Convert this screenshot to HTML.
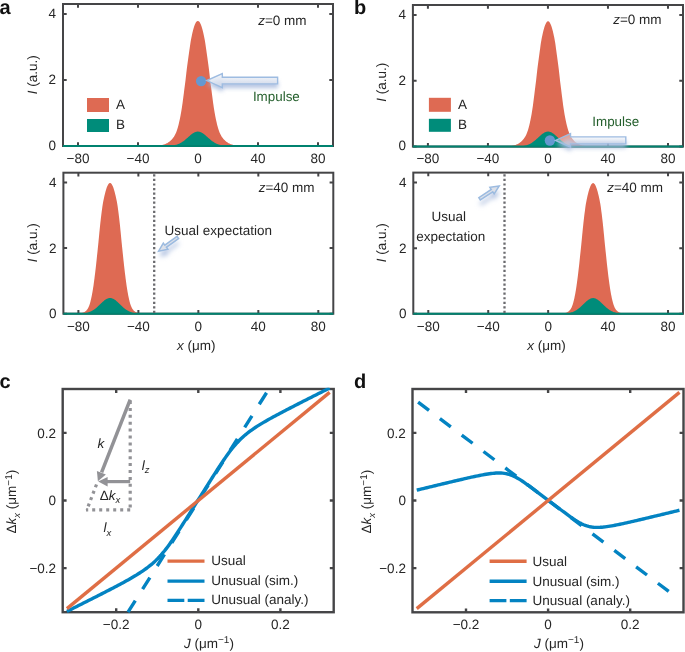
<!DOCTYPE html>
<html><head><meta charset="utf-8"><style>
html,body{margin:0;padding:0;background:#fff;}
svg{display:block;font-family:"Liberation Sans", sans-serif;will-change:transform;text-rendering:geometricPrecision;}
</style></head><body>
<svg width="685" height="652" viewBox="0 0 685 652">
<path d="M78 4v3.7M78 146v-3.7M138 4v3.7M138 146v-3.7M198 4v3.7M198 146v-3.7M258 4v3.7M258 146v-3.7M318 4v3.7M318 146v-3.7M63 146h3.7M333 146h-3.7M63 80h3.7M333 80h-3.7M63 14h3.7M333 14h-3.7" stroke="#454547" stroke-width="2" fill="none"/>
<rect x="63" y="4" width="270" height="142" stroke="#454547" stroke-width="2" fill="none"/>
<path d="M63 146 L146.96 145.98 L147.35 145.98 L147.74 145.98 L148.13 145.98 L148.53 145.97 L148.93 145.97 L149.32 145.97 L149.72 145.96 L150.13 145.96 L150.53 145.95 L150.93 145.95 L151.33 145.94 L151.74 145.93 L152.15 145.92 L152.55 145.91 L152.96 145.9 L153.37 145.89 L153.78 145.88 L154.19 145.86 L154.6 145.85 L155.01 145.83 L155.42 145.81 L155.83 145.79 L156.24 145.76 L156.65 145.74 L157.06 145.71 L157.47 145.67 L157.88 145.64 L158.29 145.6 L158.7 145.55 L159.11 145.51 L159.52 145.45 L159.93 145.4 L160.33 145.33 L160.74 145.26 L161.15 145.19 L161.56 145.11 L161.96 145.02 L162.37 144.92 L162.79 144.81 L163.21 144.7 L163.64 144.57 L164.07 144.44 L164.51 144.29 L164.95 144.13 L165.39 143.96 L165.83 143.77 L166.27 143.57 L166.72 143.36 L167.16 143.13 L167.6 142.88 L168.03 142.61 L168.47 142.32 L168.91 142.01 L169.36 141.68 L169.8 141.32 L170.25 140.95 L170.69 140.54 L171.13 140.11 L171.57 139.65 L172.01 139.17 L172.46 138.65 L172.91 138.1 L173.36 137.51 L173.8 136.89 L174.23 136.24 L174.64 135.55 L175.02 134.82 L175.4 134.05 L175.78 133.24 L176.15 132.38 L176.51 131.48 L176.86 130.54 L177.19 129.55 L177.51 128.52 L177.82 127.44 L178.13 126.31 L178.44 125.13 L178.74 123.89 L179.05 122.61 L179.35 121.28 L179.65 119.9 L179.96 118.46 L180.26 116.97 L180.55 115.43 L180.85 113.84 L181.13 112.19 L181.42 110.5 L181.7 108.75 L181.99 106.96 L182.26 105.12 L182.53 103.23 L182.79 101.29 L183.05 99.31 L183.31 97.29 L183.58 95.23 L183.85 93.13 L184.12 91 L184.39 88.83 L184.67 86.63 L184.96 84.4 L185.26 82.15 L185.55 79.88 L185.82 77.6 L186.08 75.3 L186.33 72.99 L186.6 70.67 L186.89 68.36 L187.19 66.04 L187.49 63.74 L187.8 61.45 L188.11 59.17 L188.42 56.92 L188.74 54.69 L189.06 52.5 L189.37 50.34 L189.68 48.22 L189.96 46.15 L190.25 44.13 L190.55 42.17 L190.88 40.26 L191.23 38.42 L191.59 36.66 L191.95 34.96 L192.32 33.35 L192.68 31.82 L193.04 30.37 L193.4 29.02 L193.76 27.76 L194.13 26.59 L194.5 25.53 L194.86 24.57 L195.23 23.72 L195.6 22.98 L195.97 22.35 L196.34 21.83 L196.72 21.42 L197.09 21.13 L197.47 20.96 L197.85 20.9 L198.23 20.96 L198.61 21.13 L198.98 21.42 L199.36 21.83 L199.73 22.35 L200.1 22.98 L200.47 23.72 L200.84 24.57 L201.2 25.53 L201.57 26.59 L201.94 27.76 L202.3 29.02 L202.66 30.37 L203.02 31.82 L203.38 33.35 L203.75 34.96 L204.11 36.66 L204.47 38.42 L204.82 40.26 L205.15 42.17 L205.45 44.13 L205.74 46.15 L206.02 48.22 L206.33 50.34 L206.64 52.5 L206.96 54.69 L207.28 56.92 L207.59 59.17 L207.9 61.45 L208.21 63.74 L208.51 66.04 L208.81 68.36 L209.1 70.67 L209.37 72.99 L209.62 75.3 L209.88 77.6 L210.15 79.88 L210.44 82.15 L210.74 84.4 L211.03 86.63 L211.31 88.83 L211.58 91 L211.85 93.13 L212.12 95.23 L212.39 97.29 L212.65 99.31 L212.91 101.29 L213.17 103.23 L213.44 105.12 L213.71 106.96 L214 108.75 L214.28 110.5 L214.57 112.19 L214.85 113.84 L215.15 115.43 L215.44 116.97 L215.74 118.46 L216.05 119.9 L216.35 121.28 L216.65 122.61 L216.96 123.89 L217.26 125.13 L217.57 126.31 L217.88 127.44 L218.19 128.52 L218.51 129.55 L218.84 130.54 L219.19 131.48 L219.55 132.38 L219.92 133.24 L220.3 134.05 L220.68 134.82 L221.06 135.55 L221.47 136.24 L221.9 136.89 L222.34 137.51 L222.79 138.1 L223.24 138.65 L223.69 139.17 L224.13 139.65 L224.57 140.11 L225.01 140.54 L225.45 140.95 L225.9 141.32 L226.34 141.68 L226.79 142.01 L227.23 142.32 L227.67 142.61 L228.1 142.88 L228.54 143.13 L228.98 143.36 L229.43 143.57 L229.87 143.77 L230.31 143.96 L230.75 144.13 L231.19 144.29 L231.63 144.44 L232.06 144.57 L232.49 144.7 L232.91 144.81 L233.33 144.92 L233.74 145.02 L234.14 145.11 L234.55 145.19 L234.96 145.26 L235.37 145.33 L235.77 145.4 L236.18 145.45 L236.59 145.51 L237 145.55 L237.41 145.6 L237.82 145.64 L238.23 145.67 L238.64 145.71 L239.05 145.74 L239.46 145.76 L239.87 145.79 L240.28 145.81 L240.69 145.83 L241.1 145.85 L241.51 145.86 L241.92 145.88 L242.33 145.89 L242.74 145.9 L243.15 145.91 L243.55 145.92 L243.96 145.93 L244.37 145.94 L244.77 145.95 L245.17 145.95 L245.57 145.96 L245.98 145.96 L246.38 145.97 L246.77 145.97 L247.17 145.97 L247.57 145.98 L247.96 145.98 L248.35 145.98 L248.74 145.98 L333 146 Z" fill="#DE6A53"/>
<path d="M63 146 L158.65 146 L159.31 145.99 L159.97 145.99 L160.63 145.99 L161.29 145.99 L161.94 145.98 L162.6 145.98 L163.26 145.97 L163.92 145.96 L164.58 145.95 L165.24 145.94 L165.9 145.93 L166.56 145.91 L167.21 145.89 L167.87 145.87 L168.53 145.84 L169.19 145.8 L169.85 145.76 L170.51 145.71 L171.17 145.65 L171.83 145.58 L172.49 145.49 L173.14 145.4 L173.8 145.29 L174.46 145.17 L175.12 145.02 L175.78 144.86 L176.44 144.68 L177.1 144.47 L177.76 144.24 L178.41 143.98 L179.07 143.7 L179.73 143.39 L180.39 143.05 L181.05 142.69 L181.71 142.29 L182.37 141.87 L183.03 141.41 L183.69 140.93 L184.34 140.43 L185 139.9 L185.66 139.36 L186.32 138.79 L186.98 138.22 L187.64 137.63 L188.3 137.05 L188.96 136.46 L189.61 135.88 L190.27 135.32 L190.93 134.78 L191.59 134.26 L192.25 133.77 L192.91 133.32 L193.57 132.91 L194.23 132.55 L194.89 132.24 L195.54 131.99 L196.2 131.8 L196.86 131.67 L197.52 131.61 L198.18 131.61 L198.84 131.67 L199.5 131.8 L200.16 131.99 L200.81 132.24 L201.47 132.55 L202.13 132.91 L202.79 133.32 L203.45 133.77 L204.11 134.26 L204.77 134.78 L205.43 135.32 L206.09 135.88 L206.74 136.46 L207.4 137.05 L208.06 137.63 L208.72 138.22 L209.38 138.79 L210.04 139.36 L210.7 139.9 L211.36 140.43 L212.01 140.93 L212.67 141.41 L213.33 141.87 L213.99 142.29 L214.65 142.69 L215.31 143.05 L215.97 143.39 L216.63 143.7 L217.29 143.98 L217.94 144.24 L218.6 144.47 L219.26 144.68 L219.92 144.86 L220.58 145.02 L221.24 145.17 L221.9 145.29 L222.56 145.4 L223.21 145.49 L223.87 145.58 L224.53 145.65 L225.19 145.71 L225.85 145.76 L226.51 145.8 L227.17 145.84 L227.83 145.87 L228.49 145.89 L229.14 145.91 L229.8 145.93 L230.46 145.94 L231.12 145.95 L231.78 145.96 L232.44 145.97 L233.1 145.98 L233.76 145.98 L234.41 145.99 L235.07 145.99 L235.73 145.99 L236.39 145.99 L237.05 146 L333 146 Z" fill="#008C7A"/>
<line x1="63" y1="146" x2="333" y2="146" stroke="#00826F" stroke-width="2"/>
<text x="78" y="162.7" font-size="13.5" text-anchor="middle" fill="#262626" >&#8722;80</text>
<text x="138" y="162.7" font-size="13.5" text-anchor="middle" fill="#262626" >&#8722;40</text>
<text x="198" y="162.7" font-size="13.5" text-anchor="middle" fill="#262626" >0</text>
<text x="258" y="162.7" font-size="13.5" text-anchor="middle" fill="#262626" >40</text>
<text x="318" y="162.7" font-size="13.5" text-anchor="middle" fill="#262626" >80</text>
<text x="56.1" y="149.7" font-size="13.5" text-anchor="end" fill="#262626" >0</text>
<text x="56.1" y="83.7" font-size="13.5" text-anchor="end" fill="#262626" >2</text>
<text x="56.1" y="17.7" font-size="13.5" text-anchor="end" fill="#262626" >4</text>
<path d="M78.39 172.7v3.7M78.39 313.7v-3.7M138.37 172.7v3.7M138.37 313.7v-3.7M198.35 172.7v3.7M198.35 313.7v-3.7M258.33 172.7v3.7M258.33 313.7v-3.7M318.31 172.7v3.7M318.31 313.7v-3.7M63.4 313.7h3.7M333.3 313.7h-3.7M63.4 248.1h3.7M333.3 248.1h-3.7M63.4 182.5h3.7M333.3 182.5h-3.7" stroke="#454547" stroke-width="2" fill="none"/>
<rect x="63.4" y="172.7" width="269.9" height="141" stroke="#454547" stroke-width="2" fill="none"/>
<path d="M63.4 313.7 L73.36 313.68 L73.62 313.68 L73.88 313.68 L74.14 313.68 L74.41 313.67 L74.67 313.67 L74.93 313.67 L75.19 313.66 L75.46 313.66 L75.72 313.65 L75.98 313.64 L76.24 313.64 L76.5 313.63 L76.77 313.62 L77.03 313.61 L77.29 313.6 L77.55 313.59 L77.81 313.57 L78.07 313.56 L78.33 313.54 L78.6 313.52 L78.86 313.5 L79.12 313.48 L79.38 313.45 L79.64 313.42 L79.9 313.39 L80.16 313.36 L80.42 313.32 L80.68 313.28 L80.94 313.23 L81.2 313.18 L81.46 313.13 L81.72 313.07 L81.98 313 L82.24 312.93 L82.5 312.85 L82.76 312.77 L83.02 312.67 L83.28 312.57 L83.54 312.46 L83.8 312.34 L84.06 312.21 L84.32 312.07 L84.58 311.91 L84.84 311.75 L85.1 311.57 L85.36 311.37 L85.62 311.16 L85.88 310.94 L86.13 310.7 L86.39 310.44 L86.65 310.15 L86.91 309.85 L87.17 309.53 L87.43 309.19 L87.68 308.82 L87.92 308.42 L88.16 308 L88.38 307.55 L88.61 307.07 L88.83 306.56 L89.05 306.02 L89.27 305.44 L89.49 304.83 L89.71 304.19 L89.92 303.5 L90.13 302.78 L90.34 302.02 L90.54 301.21 L90.75 300.36 L90.96 299.47 L91.17 298.54 L91.39 297.55 L91.61 296.52 L91.82 295.44 L92.04 294.31 L92.26 293.12 L92.48 291.89 L92.7 290.61 L92.92 289.27 L93.14 287.87 L93.36 286.43 L93.58 284.93 L93.8 283.37 L94.01 281.76 L94.23 280.1 L94.46 278.38 L94.68 276.61 L94.91 274.79 L95.14 272.91 L95.37 270.99 L95.61 269.01 L95.84 266.99 L96.07 264.92 L96.3 262.81 L96.52 260.66 L96.75 258.46 L96.98 256.23 L97.22 253.97 L97.47 251.67 L97.72 249.35 L97.96 247 L98.21 244.62 L98.44 242.23 L98.67 239.83 L98.9 237.42 L99.14 235 L99.37 232.58 L99.61 230.17 L99.85 227.76 L100.1 225.36 L100.35 222.99 L100.62 220.63 L100.88 218.31 L101.16 216.01 L101.44 213.76 L101.72 211.55 L102.01 209.38 L102.3 207.27 L102.6 205.22 L102.92 203.23 L103.28 201.31 L103.66 199.46 L104.03 197.69 L104.41 196.01 L104.78 194.4 L105.16 192.89 L105.53 191.48 L105.91 190.16 L106.29 188.95 L106.66 187.84 L107.04 186.84 L107.41 185.95 L107.79 185.17 L108.16 184.51 L108.54 183.97 L108.91 183.55 L109.29 183.24 L109.66 183.06 L110.03 183 L110.4 183.06 L110.78 183.24 L111.15 183.55 L111.53 183.97 L111.9 184.51 L112.28 185.17 L112.65 185.95 L113.03 186.84 L113.4 187.84 L113.78 188.95 L114.16 190.16 L114.53 191.48 L114.91 192.89 L115.28 194.4 L115.66 196.01 L116.03 197.69 L116.41 199.46 L116.79 201.31 L117.14 203.23 L117.47 205.22 L117.77 207.27 L118.06 209.38 L118.34 211.55 L118.63 213.76 L118.91 216.01 L119.18 218.31 L119.45 220.63 L119.71 222.99 L119.96 225.36 L120.21 227.76 L120.45 230.17 L120.69 232.58 L120.93 235 L121.16 237.42 L121.39 239.83 L121.62 242.23 L121.86 244.62 L122.1 247 L122.35 249.35 L122.6 251.67 L122.84 253.97 L123.08 256.23 L123.31 258.46 L123.54 260.66 L123.77 262.81 L123.99 264.92 L124.23 266.99 L124.46 269.01 L124.69 270.99 L124.92 272.91 L125.16 274.79 L125.38 276.61 L125.61 278.38 L125.83 280.1 L126.05 281.76 L126.27 283.37 L126.49 284.93 L126.71 286.43 L126.93 287.87 L127.15 289.27 L127.37 290.61 L127.59 291.89 L127.81 293.12 L128.02 294.31 L128.24 295.44 L128.46 296.52 L128.68 297.55 L128.89 298.54 L129.1 299.47 L129.31 300.36 L129.52 301.21 L129.73 302.02 L129.94 302.78 L130.14 303.5 L130.36 304.19 L130.58 304.83 L130.8 305.44 L131.02 306.02 L131.24 306.56 L131.46 307.07 L131.68 307.55 L131.91 308 L132.14 308.42 L132.38 308.82 L132.64 309.19 L132.89 309.53 L133.15 309.85 L133.41 310.15 L133.67 310.44 L133.93 310.7 L134.19 310.94 L134.45 311.16 L134.71 311.37 L134.97 311.57 L135.23 311.75 L135.49 311.91 L135.75 312.07 L136.01 312.21 L136.27 312.34 L136.53 312.46 L136.78 312.57 L137.04 312.67 L137.3 312.77 L137.56 312.85 L137.82 312.93 L138.08 313 L138.34 313.07 L138.6 313.13 L138.86 313.18 L139.12 313.23 L139.38 313.28 L139.65 313.32 L139.91 313.36 L140.17 313.39 L140.43 313.42 L140.69 313.45 L140.95 313.48 L141.21 313.5 L141.47 313.52 L141.73 313.54 L141.99 313.56 L142.25 313.57 L142.51 313.59 L142.78 313.6 L143.04 313.61 L143.3 313.62 L143.56 313.63 L143.82 313.64 L144.08 313.64 L144.35 313.65 L144.61 313.66 L144.87 313.66 L145.13 313.67 L145.4 313.67 L145.66 313.67 L145.92 313.68 L146.18 313.68 L146.45 313.68 L146.71 313.68 L333.3 313.7 Z" fill="#DE6A53"/>
<path d="M63.4 313.7 L70.83 313.69 L71.49 313.69 L72.15 313.69 L72.81 313.69 L73.47 313.69 L74.13 313.68 L74.79 313.68 L75.44 313.67 L76.1 313.66 L76.76 313.65 L77.42 313.64 L78.08 313.62 L78.74 313.6 L79.4 313.58 L80.06 313.55 L80.72 313.52 L81.37 313.48 L82.03 313.43 L82.69 313.38 L83.35 313.31 L84.01 313.24 L84.67 313.15 L85.33 313.05 L85.99 312.93 L86.64 312.79 L87.3 312.63 L87.96 312.46 L88.62 312.26 L89.28 312.03 L89.94 311.78 L90.6 311.5 L91.26 311.2 L91.92 310.86 L92.57 310.49 L93.23 310.09 L93.89 309.66 L94.55 309.19 L95.21 308.7 L95.87 308.18 L96.53 307.63 L97.19 307.05 L97.84 306.46 L98.5 305.84 L99.16 305.21 L99.82 304.58 L100.48 303.94 L101.14 303.3 L101.8 302.67 L102.46 302.06 L103.12 301.46 L103.77 300.9 L104.43 300.36 L105.09 299.87 L105.75 299.43 L106.41 299.04 L107.07 298.7 L107.73 298.43 L108.39 298.22 L109.04 298.08 L109.7 298.01 L110.36 298.01 L111.02 298.08 L111.68 298.22 L112.34 298.43 L113 298.7 L113.66 299.04 L114.32 299.43 L114.97 299.87 L115.63 300.36 L116.29 300.9 L116.95 301.46 L117.61 302.06 L118.27 302.67 L118.93 303.3 L119.59 303.94 L120.24 304.58 L120.9 305.21 L121.56 305.84 L122.22 306.46 L122.88 307.05 L123.54 307.63 L124.2 308.18 L124.86 308.7 L125.52 309.19 L126.17 309.66 L126.83 310.09 L127.49 310.49 L128.15 310.86 L128.81 311.2 L129.47 311.5 L130.13 311.78 L130.79 312.03 L131.44 312.26 L132.1 312.46 L132.76 312.63 L133.42 312.79 L134.08 312.93 L134.74 313.05 L135.4 313.15 L136.06 313.24 L136.72 313.31 L137.37 313.38 L138.03 313.43 L138.69 313.48 L139.35 313.52 L140.01 313.55 L140.67 313.58 L141.33 313.6 L141.99 313.62 L142.64 313.64 L143.3 313.65 L143.96 313.66 L144.62 313.67 L145.28 313.68 L145.94 313.68 L146.6 313.69 L147.26 313.69 L147.92 313.69 L148.57 313.69 L149.23 313.69 L333.3 313.7 Z" fill="#008C7A"/>
<line x1="63.4" y1="313.7" x2="333.3" y2="313.7" stroke="#00826F" stroke-width="2"/>
<text x="78.39" y="331.2" font-size="13.5" text-anchor="middle" fill="#262626" >&#8722;80</text>
<text x="138.37" y="331.2" font-size="13.5" text-anchor="middle" fill="#262626" >&#8722;40</text>
<text x="198.35" y="331.2" font-size="13.5" text-anchor="middle" fill="#262626" >0</text>
<text x="258.33" y="331.2" font-size="13.5" text-anchor="middle" fill="#262626" >40</text>
<text x="318.31" y="331.2" font-size="13.5" text-anchor="middle" fill="#262626" >80</text>
<text x="56.5" y="318.1" font-size="13.5" text-anchor="end" fill="#262626" >0</text>
<text x="56.5" y="252.5" font-size="13.5" text-anchor="end" fill="#262626" >2</text>
<text x="56.5" y="186.9" font-size="13.5" text-anchor="end" fill="#262626" >4</text>
<path d="M427.91 5v3.7M427.91 146.6v-3.7M487.93 5v3.7M487.93 146.6v-3.7M547.95 5v3.7M547.95 146.6v-3.7M607.97 5v3.7M607.97 146.6v-3.7M667.99 5v3.7M667.99 146.6v-3.7M412.9 146.6h3.7M683 146.6h-3.7M412.9 80.8h3.7M683 80.8h-3.7M412.9 15h3.7M683 15h-3.7" stroke="#454547" stroke-width="2" fill="none"/>
<rect x="412.9" y="5" width="270.1" height="141.6" stroke="#454547" stroke-width="2" fill="none"/>
<path d="M412.9 146.6 L498.59 146.58 L498.97 146.58 L499.35 146.58 L499.73 146.58 L500.12 146.57 L500.5 146.57 L500.89 146.57 L501.28 146.56 L501.67 146.56 L502.06 146.55 L502.45 146.55 L502.84 146.54 L503.24 146.53 L503.63 146.52 L504.03 146.51 L504.42 146.5 L504.82 146.49 L505.22 146.48 L505.61 146.46 L506.01 146.45 L506.41 146.43 L506.81 146.41 L507.21 146.39 L507.61 146.36 L508.01 146.34 L508.4 146.31 L508.8 146.27 L509.2 146.24 L509.6 146.2 L510 146.15 L510.4 146.11 L510.8 146.05 L511.19 145.99 L511.59 145.93 L511.99 145.86 L512.38 145.79 L512.78 145.71 L513.17 145.62 L513.57 145.52 L513.98 145.41 L514.39 145.3 L514.8 145.17 L515.22 145.04 L515.65 144.89 L516.07 144.73 L516.5 144.56 L516.93 144.37 L517.36 144.17 L517.79 143.95 L518.22 143.72 L518.65 143.47 L519.07 143.2 L519.5 142.91 L519.93 142.6 L520.36 142.27 L520.79 141.92 L521.22 141.54 L521.65 141.13 L522.08 140.7 L522.51 140.24 L522.94 139.75 L523.38 139.24 L523.82 138.68 L524.25 138.1 L524.68 137.48 L525.1 136.82 L525.49 136.13 L525.87 135.4 L526.24 134.63 L526.6 133.82 L526.96 132.96 L527.31 132.06 L527.65 131.12 L527.97 130.13 L528.28 129.09 L528.59 128.01 L528.89 126.87 L529.18 125.69 L529.48 124.46 L529.78 123.18 L530.07 121.84 L530.37 120.45 L530.66 119.01 L530.96 117.52 L531.24 115.98 L531.53 114.39 L531.81 112.74 L532.08 111.04 L532.36 109.29 L532.63 107.5 L532.9 105.65 L533.16 103.76 L533.41 101.82 L533.67 99.84 L533.92 97.81 L534.18 95.75 L534.44 93.65 L534.71 91.51 L534.97 89.34 L535.24 87.13 L535.52 84.9 L535.81 82.65 L536.1 80.38 L536.36 78.09 L536.61 75.78 L536.86 73.47 L537.12 71.15 L537.4 68.83 L537.69 66.52 L537.99 64.21 L538.29 61.91 L538.59 59.63 L538.89 57.38 L539.2 55.15 L539.51 52.95 L539.81 50.79 L540.11 48.67 L540.39 46.59 L540.66 44.57 L540.96 42.6 L541.28 40.69 L541.62 38.85 L541.97 37.08 L542.32 35.39 L542.68 33.77 L543.03 32.23 L543.38 30.79 L543.73 29.43 L544.08 28.17 L544.44 27 L544.79 25.94 L545.15 24.98 L545.51 24.13 L545.87 23.38 L546.23 22.75 L546.59 22.23 L546.95 21.82 L547.32 21.53 L547.69 21.36 L548.06 21.3 L548.42 21.36 L548.79 21.53 L549.16 21.82 L549.52 22.23 L549.88 22.75 L550.24 23.38 L550.6 24.13 L550.96 24.98 L551.32 25.94 L551.67 27 L552.03 28.17 L552.38 29.43 L552.73 30.79 L553.08 32.23 L553.43 33.77 L553.79 35.39 L554.14 37.08 L554.49 38.85 L554.83 40.69 L555.15 42.6 L555.45 44.57 L555.72 46.59 L556 48.67 L556.3 50.79 L556.6 52.95 L556.91 55.15 L557.22 57.38 L557.52 59.63 L557.82 61.91 L558.12 64.21 L558.42 66.52 L558.71 68.83 L558.99 71.15 L559.25 73.47 L559.5 75.78 L559.75 78.09 L560.01 80.38 L560.3 82.65 L560.59 84.9 L560.87 87.13 L561.14 89.34 L561.4 91.51 L561.67 93.65 L561.93 95.75 L562.19 97.81 L562.44 99.84 L562.7 101.82 L562.95 103.76 L563.21 105.65 L563.48 107.5 L563.75 109.29 L564.03 111.04 L564.3 112.74 L564.58 114.39 L564.87 115.98 L565.15 117.52 L565.45 119.01 L565.74 120.45 L566.04 121.84 L566.33 123.18 L566.63 124.46 L566.93 125.69 L567.22 126.87 L567.52 128.01 L567.83 129.09 L568.14 130.13 L568.46 131.12 L568.8 132.06 L569.15 132.96 L569.51 133.82 L569.87 134.63 L570.24 135.4 L570.62 136.13 L571.01 136.82 L571.43 137.48 L571.86 138.1 L572.29 138.68 L572.73 139.24 L573.17 139.75 L573.6 140.24 L574.03 140.7 L574.46 141.13 L574.89 141.54 L575.32 141.92 L575.75 142.27 L576.18 142.6 L576.61 142.91 L577.04 143.2 L577.46 143.47 L577.89 143.72 L578.32 143.95 L578.75 144.17 L579.18 144.37 L579.61 144.56 L580.04 144.73 L580.46 144.89 L580.89 145.04 L581.31 145.17 L581.72 145.3 L582.13 145.41 L582.54 145.52 L582.94 145.62 L583.33 145.71 L583.73 145.79 L584.12 145.86 L584.52 145.93 L584.92 145.99 L585.31 146.05 L585.71 146.11 L586.11 146.15 L586.51 146.2 L586.91 146.24 L587.31 146.27 L587.71 146.31 L588.1 146.34 L588.5 146.36 L588.9 146.39 L589.3 146.41 L589.7 146.43 L590.1 146.45 L590.5 146.46 L590.89 146.48 L591.29 146.49 L591.69 146.5 L592.08 146.51 L592.48 146.52 L592.87 146.53 L593.27 146.54 L593.66 146.55 L594.05 146.55 L594.44 146.56 L594.83 146.56 L595.22 146.57 L595.61 146.57 L595.99 146.57 L596.38 146.58 L596.76 146.58 L597.14 146.58 L597.52 146.58 L683 146.6 Z" fill="#DE6A53"/>
<path d="M412.9 146.6 L508.86 146.59 L509.51 146.59 L510.17 146.59 L510.83 146.59 L511.49 146.59 L512.15 146.58 L512.81 146.58 L513.47 146.57 L514.13 146.56 L514.78 146.55 L515.44 146.54 L516.1 146.53 L516.76 146.51 L517.42 146.49 L518.08 146.46 L518.74 146.43 L519.4 146.39 L520.06 146.35 L520.71 146.29 L521.37 146.23 L522.03 146.16 L522.69 146.07 L523.35 145.97 L524.01 145.86 L524.67 145.73 L525.33 145.58 L525.98 145.41 L526.64 145.22 L527.3 145.01 L527.96 144.77 L528.62 144.5 L529.28 144.21 L529.94 143.88 L530.6 143.53 L531.26 143.15 L531.91 142.74 L532.57 142.29 L533.23 141.82 L533.89 141.32 L534.55 140.8 L535.21 140.25 L535.87 139.68 L536.53 139.09 L537.18 138.49 L537.84 137.88 L538.5 137.27 L539.16 136.66 L539.82 136.06 L540.48 135.47 L541.14 134.91 L541.8 134.37 L542.46 133.86 L543.11 133.39 L543.77 132.97 L544.43 132.59 L545.09 132.27 L545.75 132.01 L546.41 131.81 L547.07 131.68 L547.73 131.61 L548.38 131.61 L549.04 131.68 L549.7 131.81 L550.36 132.01 L551.02 132.27 L551.68 132.59 L552.34 132.97 L553 133.39 L553.66 133.86 L554.31 134.37 L554.97 134.91 L555.63 135.47 L556.29 136.06 L556.95 136.66 L557.61 137.27 L558.27 137.88 L558.93 138.49 L559.58 139.09 L560.24 139.68 L560.9 140.25 L561.56 140.8 L562.22 141.32 L562.88 141.82 L563.54 142.29 L564.2 142.74 L564.86 143.15 L565.51 143.53 L566.17 143.88 L566.83 144.21 L567.49 144.5 L568.15 144.77 L568.81 145.01 L569.47 145.22 L570.13 145.41 L570.78 145.58 L571.44 145.73 L572.1 145.86 L572.76 145.97 L573.42 146.07 L574.08 146.16 L574.74 146.23 L575.4 146.29 L576.06 146.35 L576.71 146.39 L577.37 146.43 L578.03 146.46 L578.69 146.49 L579.35 146.51 L580.01 146.53 L580.67 146.54 L581.33 146.55 L581.98 146.56 L582.64 146.57 L583.3 146.58 L583.96 146.58 L584.62 146.59 L585.28 146.59 L585.94 146.59 L586.6 146.59 L587.26 146.59 L683 146.6 Z" fill="#008C7A"/>
<line x1="412.9" y1="146.6" x2="683" y2="146.6" stroke="#00826F" stroke-width="2"/>
<text x="427.91" y="162.7" font-size="13.5" text-anchor="middle" fill="#262626" >&#8722;80</text>
<text x="487.93" y="162.7" font-size="13.5" text-anchor="middle" fill="#262626" >&#8722;40</text>
<text x="547.95" y="162.7" font-size="13.5" text-anchor="middle" fill="#262626" >0</text>
<text x="607.97" y="162.7" font-size="13.5" text-anchor="middle" fill="#262626" >40</text>
<text x="667.99" y="162.7" font-size="13.5" text-anchor="middle" fill="#262626" >80</text>
<text x="406" y="150.3" font-size="13.5" text-anchor="end" fill="#262626" >0</text>
<text x="406" y="84.5" font-size="13.5" text-anchor="end" fill="#262626" >2</text>
<text x="406" y="18.7" font-size="13.5" text-anchor="end" fill="#262626" >4</text>
<path d="M428.28 172.6v3.7M428.28 313.8v-3.7M488.22 172.6v3.7M488.22 313.8v-3.7M548.15 172.6v3.7M548.15 313.8v-3.7M608.08 172.6v3.7M608.08 313.8v-3.7M668.02 172.6v3.7M668.02 313.8v-3.7M413.3 313.8h3.7M683 313.8h-3.7M413.3 248.2h3.7M683 248.2h-3.7M413.3 182.6h3.7M683 182.6h-3.7" stroke="#454547" stroke-width="2" fill="none"/>
<rect x="413.3" y="172.6" width="269.7" height="141.2" stroke="#454547" stroke-width="2" fill="none"/>
<path d="M413.3 313.8 L556.42 313.78 L556.69 313.78 L556.95 313.78 L557.21 313.78 L557.47 313.77 L557.74 313.77 L558 313.77 L558.26 313.76 L558.52 313.76 L558.79 313.75 L559.05 313.74 L559.31 313.74 L559.57 313.73 L559.83 313.72 L560.1 313.71 L560.36 313.7 L560.62 313.69 L560.88 313.67 L561.14 313.66 L561.4 313.64 L561.66 313.62 L561.92 313.6 L562.18 313.58 L562.45 313.55 L562.71 313.52 L562.97 313.49 L563.23 313.46 L563.49 313.42 L563.75 313.38 L564.01 313.33 L564.27 313.28 L564.53 313.23 L564.79 313.17 L565.05 313.1 L565.31 313.03 L565.57 312.95 L565.83 312.87 L566.09 312.77 L566.35 312.67 L566.61 312.56 L566.87 312.44 L567.13 312.31 L567.39 312.17 L567.65 312.01 L567.9 311.85 L568.16 311.67 L568.42 311.47 L568.68 311.26 L568.94 311.04 L569.2 310.8 L569.46 310.54 L569.72 310.25 L569.98 309.95 L570.24 309.63 L570.5 309.29 L570.75 308.92 L570.99 308.52 L571.22 308.1 L571.45 307.65 L571.67 307.17 L571.89 306.66 L572.11 306.12 L572.34 305.54 L572.56 304.93 L572.78 304.29 L572.99 303.6 L573.2 302.88 L573.4 302.12 L573.61 301.31 L573.82 300.46 L574.03 299.57 L574.24 298.64 L574.46 297.65 L574.67 296.62 L574.89 295.54 L575.11 294.41 L575.33 293.22 L575.55 291.99 L575.77 290.71 L575.99 289.37 L576.21 287.97 L576.43 286.53 L576.64 285.03 L576.86 283.47 L577.08 281.86 L577.3 280.2 L577.52 278.48 L577.75 276.71 L577.98 274.89 L578.21 273.01 L578.44 271.09 L578.67 269.11 L578.91 267.09 L579.14 265.02 L579.37 262.91 L579.59 260.76 L579.82 258.56 L580.05 256.33 L580.29 254.07 L580.54 251.77 L580.78 249.45 L581.03 247.1 L581.27 244.72 L581.51 242.33 L581.74 239.93 L581.97 237.52 L582.2 235.1 L582.44 232.68 L582.68 230.27 L582.92 227.86 L583.17 225.46 L583.42 223.09 L583.68 220.73 L583.95 218.41 L584.22 216.11 L584.5 213.86 L584.79 211.65 L585.08 209.48 L585.36 207.37 L585.66 205.32 L585.99 203.33 L586.35 201.41 L586.72 199.56 L587.1 197.79 L587.47 196.11 L587.85 194.5 L588.22 192.99 L588.6 191.58 L588.98 190.26 L589.35 189.05 L589.73 187.94 L590.1 186.94 L590.48 186.05 L590.86 185.27 L591.23 184.61 L591.61 184.07 L591.98 183.65 L592.36 183.34 L592.73 183.16 L593.1 183.1 L593.47 183.16 L593.84 183.34 L594.22 183.65 L594.59 184.07 L594.97 184.61 L595.34 185.27 L595.72 186.05 L596.1 186.94 L596.47 187.94 L596.85 189.05 L597.22 190.26 L597.6 191.58 L597.98 192.99 L598.35 194.5 L598.73 196.11 L599.1 197.79 L599.48 199.56 L599.85 201.41 L600.21 203.33 L600.54 205.32 L600.84 207.37 L601.12 209.48 L601.41 211.65 L601.7 213.86 L601.98 216.11 L602.25 218.41 L602.52 220.73 L602.78 223.09 L603.03 225.46 L603.28 227.86 L603.52 230.27 L603.76 232.68 L604 235.1 L604.23 237.52 L604.46 239.93 L604.69 242.33 L604.93 244.72 L605.17 247.1 L605.42 249.45 L605.66 251.77 L605.91 254.07 L606.15 256.33 L606.38 258.56 L606.61 260.76 L606.83 262.91 L607.06 265.02 L607.29 267.09 L607.53 269.11 L607.76 271.09 L607.99 273.01 L608.22 274.89 L608.45 276.71 L608.68 278.48 L608.9 280.2 L609.12 281.86 L609.34 283.47 L609.56 285.03 L609.77 286.53 L609.99 287.97 L610.21 289.37 L610.43 290.71 L610.65 291.99 L610.87 293.22 L611.09 294.41 L611.31 295.54 L611.53 296.62 L611.74 297.65 L611.96 298.64 L612.17 299.57 L612.38 300.46 L612.59 301.31 L612.8 302.12 L613 302.88 L613.21 303.6 L613.42 304.29 L613.64 304.93 L613.86 305.54 L614.09 306.12 L614.31 306.66 L614.53 307.17 L614.75 307.65 L614.98 308.1 L615.21 308.52 L615.45 308.92 L615.7 309.29 L615.96 309.63 L616.22 309.95 L616.48 310.25 L616.74 310.54 L617 310.8 L617.26 311.04 L617.52 311.26 L617.78 311.47 L618.04 311.67 L618.3 311.85 L618.55 312.01 L618.81 312.17 L619.07 312.31 L619.33 312.44 L619.59 312.56 L619.85 312.67 L620.11 312.77 L620.37 312.87 L620.63 312.95 L620.89 313.03 L621.15 313.1 L621.41 313.17 L621.67 313.23 L621.93 313.28 L622.19 313.33 L622.45 313.38 L622.71 313.42 L622.97 313.46 L623.23 313.49 L623.49 313.52 L623.75 313.55 L624.02 313.58 L624.28 313.6 L624.54 313.62 L624.8 313.64 L625.06 313.66 L625.32 313.67 L625.58 313.69 L625.84 313.7 L626.1 313.71 L626.37 313.72 L626.63 313.73 L626.89 313.74 L627.15 313.74 L627.41 313.75 L627.68 313.76 L627.94 313.76 L628.2 313.77 L628.46 313.77 L628.73 313.77 L628.99 313.78 L629.25 313.78 L629.51 313.78 L629.78 313.78 L683 313.8 Z" fill="#DE6A53"/>
<path d="M413.3 313.8 L553.9 313.79 L554.56 313.79 L555.22 313.79 L555.88 313.79 L556.54 313.79 L557.19 313.78 L557.85 313.78 L558.51 313.77 L559.17 313.76 L559.83 313.75 L560.49 313.74 L561.15 313.72 L561.81 313.7 L562.46 313.68 L563.12 313.65 L563.78 313.62 L564.44 313.58 L565.1 313.53 L565.76 313.48 L566.42 313.41 L567.08 313.34 L567.74 313.25 L568.39 313.15 L569.05 313.03 L569.71 312.89 L570.37 312.73 L571.03 312.56 L571.69 312.36 L572.35 312.13 L573.01 311.88 L573.66 311.6 L574.32 311.3 L574.98 310.96 L575.64 310.59 L576.3 310.19 L576.96 309.76 L577.62 309.29 L578.28 308.8 L578.94 308.28 L579.59 307.73 L580.25 307.15 L580.91 306.56 L581.57 305.94 L582.23 305.31 L582.89 304.68 L583.55 304.04 L584.21 303.4 L584.86 302.77 L585.52 302.16 L586.18 301.56 L586.84 301 L587.5 300.46 L588.16 299.97 L588.82 299.53 L589.48 299.14 L590.14 298.8 L590.79 298.53 L591.45 298.32 L592.11 298.18 L592.77 298.11 L593.43 298.11 L594.09 298.18 L594.75 298.32 L595.41 298.53 L596.06 298.8 L596.72 299.14 L597.38 299.53 L598.04 299.97 L598.7 300.46 L599.36 301 L600.02 301.56 L600.68 302.16 L601.34 302.77 L601.99 303.4 L602.65 304.04 L603.31 304.68 L603.97 305.31 L604.63 305.94 L605.29 306.56 L605.95 307.15 L606.61 307.73 L607.26 308.28 L607.92 308.8 L608.58 309.29 L609.24 309.76 L609.9 310.19 L610.56 310.59 L611.22 310.96 L611.88 311.3 L612.54 311.6 L613.19 311.88 L613.85 312.13 L614.51 312.36 L615.17 312.56 L615.83 312.73 L616.49 312.89 L617.15 313.03 L617.81 313.15 L618.46 313.25 L619.12 313.34 L619.78 313.41 L620.44 313.48 L621.1 313.53 L621.76 313.58 L622.42 313.62 L623.08 313.65 L623.74 313.68 L624.39 313.7 L625.05 313.72 L625.71 313.74 L626.37 313.75 L627.03 313.76 L627.69 313.77 L628.35 313.78 L629.01 313.78 L629.66 313.79 L630.32 313.79 L630.98 313.79 L631.64 313.79 L632.3 313.79 L683 313.8 Z" fill="#008C7A"/>
<line x1="413.3" y1="313.8" x2="683" y2="313.8" stroke="#00826F" stroke-width="2"/>
<text x="428.28" y="331.2" font-size="13.5" text-anchor="middle" fill="#262626" >&#8722;80</text>
<text x="488.22" y="331.2" font-size="13.5" text-anchor="middle" fill="#262626" >&#8722;40</text>
<text x="548.15" y="331.2" font-size="13.5" text-anchor="middle" fill="#262626" >0</text>
<text x="608.08" y="331.2" font-size="13.5" text-anchor="middle" fill="#262626" >40</text>
<text x="668.02" y="331.2" font-size="13.5" text-anchor="middle" fill="#262626" >80</text>
<text x="406.4" y="318.2" font-size="13.5" text-anchor="end" fill="#262626" >0</text>
<text x="406.4" y="252.6" font-size="13.5" text-anchor="end" fill="#262626" >2</text>
<text x="406.4" y="187" font-size="13.5" text-anchor="end" fill="#262626" >4</text>
<text x="258.2" y="25.3" font-size="13.5" fill="#262626"><tspan font-style="italic">z</tspan>=0 mm</text>
<text x="258.7" y="191.9" font-size="13.5" fill="#262626"><tspan font-style="italic">z</tspan>=40 mm</text>
<text x="613.2" y="23.9" font-size="13.5" fill="#262626"><tspan font-style="italic">z</tspan>=0 mm</text>
<text x="607.2" y="191.5" font-size="13.5" fill="#262626"><tspan font-style="italic">z</tspan>=40 mm</text>
<text transform="translate(36.8 74.8) rotate(-90)" font-size="13.5" text-anchor="middle" fill="#262626"><tspan font-style="italic">I</tspan> (a.u.)</text>
<text transform="translate(36.8 242.7) rotate(-90)" font-size="13.5" text-anchor="middle" fill="#262626"><tspan font-style="italic">I</tspan> (a.u.)</text>
<text transform="translate(386 82.2) rotate(-90)" font-size="13.5" text-anchor="middle" fill="#262626"><tspan font-style="italic">I</tspan> (a.u.)</text>
<text transform="translate(386 242.7) rotate(-90)" font-size="13.5" text-anchor="middle" fill="#262626"><tspan font-style="italic">I</tspan> (a.u.)</text>
<text x="196.2" y="350" font-size="13.5" text-anchor="middle" fill="#262626"><tspan font-style="italic">x</tspan> (&#956;m)</text>
<text x="546.5" y="350" font-size="13.5" text-anchor="middle" fill="#262626"><tspan font-style="italic">x</tspan> (&#956;m)</text>
<rect x="87" y="98" width="22" height="14" fill="#DE6A53"/>
<rect x="87" y="119" width="22" height="13" fill="#008C7A"/>
<text x="116" y="109" font-size="13.5" text-anchor="start" fill="#262626" >A</text>
<text x="116" y="129.4" font-size="13.5" text-anchor="start" fill="#262626" >B</text>
<rect x="428.9" y="97.8" width="22" height="14" fill="#DE6A53"/>
<rect x="428.9" y="118.8" width="22" height="13" fill="#008C7A"/>
<text x="457.9" y="108.8" font-size="13.5" text-anchor="start" fill="#262626" >A</text>
<text x="457.9" y="129.2" font-size="13.5" text-anchor="start" fill="#262626" >B</text>
<text x="-0.5" y="13.8" font-size="20" font-weight="bold" fill="#111">a</text>
<text x="354" y="13.6" font-size="20" font-weight="bold" fill="#111">b</text>
<text x="-0.5" y="387.7" font-size="20" font-weight="bold" fill="#111">c</text>
<text x="354" y="388" font-size="20" font-weight="bold" fill="#111">d</text>
<clipPath id="clipc"><rect x="61.5" y="387.8" width="273.4" height="225.6"/></clipPath>
<path d="M116.2 389v3.9M116.2 612.2v-3.9M198.3 389v3.9M198.3 612.2v-3.9M280.4 389v3.9M280.4 612.2v-3.9M62.7 568.1h3.9M333.7 568.1h-3.9M62.7 500.5h3.9M333.7 500.5h-3.9M62.7 432.9h3.9M333.7 432.9h-3.9" stroke="#454547" stroke-width="2.4" fill="none"/>
<rect x="62.7" y="389" width="271" height="223.2" stroke="#454547" stroke-width="2.4" fill="none"/>
<text x="116.2" y="628.8" font-size="13.5" text-anchor="middle" fill="#262626" >&#8722;0.2</text>
<text x="198.3" y="628.8" font-size="13.5" text-anchor="middle" fill="#262626" >0</text>
<text x="280.4" y="628.8" font-size="13.5" text-anchor="middle" fill="#262626" >0.2</text>
<text x="56.1" y="572.7" font-size="13.5" text-anchor="end" fill="#262626" >&#8722;0.2</text>
<text x="56.1" y="505.1" font-size="13.5" text-anchor="end" fill="#262626" >0</text>
<text x="56.1" y="437.5" font-size="13.5" text-anchor="end" fill="#262626" >0.2</text>
<g clip-path="url(#clipc)" fill="none" stroke-width="3.4">
<path d="M66.94 611.43 L68.59 610.59 L70.24 609.76 L71.9 608.93 L73.55 608.1 L75.2 607.27 L76.85 606.44 L78.51 605.6 L80.16 604.77 L81.81 603.94 L83.46 603.1 L85.12 602.27 L86.77 601.43 L88.42 600.6 L90.07 599.76 L91.72 598.92 L93.38 598.08 L95.03 597.24 L96.68 596.4 L98.33 595.56 L99.99 594.72 L101.64 593.87 L103.29 593.03 L104.94 592.18 L106.6 591.33 L108.25 590.48 L109.9 589.62 L111.55 588.76 L113.21 587.9 L114.86 587.03 L116.51 586.16 L118.16 585.29 L119.81 584.41 L121.47 583.52 L123.12 582.63 L124.77 581.73 L126.42 580.82 L128.08 579.9 L129.73 578.97 L131.38 578.02 L133.03 577.06 L134.69 576.08 L136.34 575.09 L137.99 574.07 L139.64 573.02 L141.29 571.94 L142.95 570.83 L144.6 569.69 L146.25 568.5 L147.9 567.26 L149.56 565.96 L151.21 564.61 L152.86 563.19 L154.51 561.7 L156.17 560.13 L157.82 558.47 L159.47 556.73 L161.12 554.9 L162.77 552.97 L164.43 550.96 L166.08 548.86 L167.73 546.67 L169.38 544.41 L171.04 542.08 L172.69 539.69 L174.34 537.25 L175.99 534.76 L177.65 532.24 L179.3 529.69 L180.95 527.12 L182.6 524.54 L184.26 521.94 L185.91 519.33 L187.56 516.72 L189.21 514.11 L190.86 511.5 L192.52 508.88 L194.17 506.26 L195.82 503.65 L197.47 501.03 L199.13 498.41 L200.78 495.8 L202.43 493.18 L204.08 490.57 L205.74 487.95 L207.39 485.34 L209.04 482.72 L210.69 480.11 L212.34 477.51 L214 474.91 L215.65 472.32 L217.3 469.75 L218.95 467.2 L220.61 464.68 L222.26 462.2 L223.91 459.75 L225.56 457.36 L227.22 455.03 L228.87 452.77 L230.52 450.59 L232.17 448.49 L233.83 446.47 L235.48 444.55 L237.13 442.72 L238.78 440.97 L240.43 439.32 L242.09 437.75 L243.74 436.25 L245.39 434.83 L247.04 433.48 L248.7 432.19 L250.35 430.95 L252 429.76 L253.65 428.61 L255.31 427.5 L256.96 426.43 L258.61 425.38 L260.26 424.36 L261.91 423.36 L263.57 422.38 L265.22 421.42 L266.87 420.48 L268.52 419.55 L270.18 418.63 L271.83 417.72 L273.48 416.82 L275.13 415.92 L276.79 415.04 L278.44 414.16 L280.09 413.28 L281.74 412.41 L283.39 411.55 L285.05 410.68 L286.7 409.83 L288.35 408.97 L290 408.12 L291.66 407.27 L293.31 406.42 L294.96 405.57 L296.61 404.73 L298.27 403.88 L299.92 403.04 L301.57 402.2 L303.22 401.36 L304.88 400.52 L306.53 399.68 L308.18 398.85 L309.83 398.01 L311.48 397.18 L313.14 396.34 L314.79 395.51 L316.44 394.67 L318.09 393.84 L319.75 393.01 L321.4 392.18 L323.05 391.34 L324.7 390.51 L326.36 389.68 L328.01 388.85 L329.66 388.02" stroke="#0383C2" stroke-linejoin="round"/>
<path d="M128 612.2L268.9 389" stroke="#0383C2" stroke-dasharray="13.66 13.66"/>
<path d="M66.94 608.66 L329.66 392.34" stroke="#DF6E45"/>
</g>
<clipPath id="clipd"><rect x="411.3" y="387.8" width="273.4" height="225.7"/></clipPath>
<path d="M466 389v3.9M466 612.3v-3.9M548.1 389v3.9M548.1 612.3v-3.9M630.2 389v3.9M630.2 612.3v-3.9M412.5 568.1h3.9M683.5 568.1h-3.9M412.5 500.5h3.9M683.5 500.5h-3.9M412.5 432.9h3.9M683.5 432.9h-3.9" stroke="#454547" stroke-width="2.4" fill="none"/>
<rect x="412.5" y="389" width="271" height="223.3" stroke="#454547" stroke-width="2.4" fill="none"/>
<text x="466" y="628.9" font-size="13.5" text-anchor="middle" fill="#262626" >&#8722;0.2</text>
<text x="548.1" y="628.9" font-size="13.5" text-anchor="middle" fill="#262626" >0</text>
<text x="630.2" y="628.9" font-size="13.5" text-anchor="middle" fill="#262626" >0.2</text>
<text x="405.9" y="572.7" font-size="13.5" text-anchor="end" fill="#262626" >&#8722;0.2</text>
<text x="405.9" y="505.1" font-size="13.5" text-anchor="end" fill="#262626" >0</text>
<text x="405.9" y="437.5" font-size="13.5" text-anchor="end" fill="#262626" >0.2</text>
<g clip-path="url(#clipd)" fill="none" stroke-width="3.4">
<path d="M416.74 490.15 L418.39 489.75 L420.04 489.35 L421.7 488.95 L423.35 488.55 L425 488.15 L426.65 487.75 L428.31 487.35 L429.96 486.95 L431.61 486.55 L433.26 486.16 L434.92 485.76 L436.57 485.36 L438.22 484.96 L439.87 484.57 L441.52 484.17 L443.18 483.77 L444.83 483.38 L446.48 482.98 L448.13 482.59 L449.79 482.19 L451.44 481.8 L453.09 481.41 L454.74 481.02 L456.4 480.63 L458.05 480.24 L459.7 479.85 L461.35 479.47 L463.01 479.08 L464.66 478.7 L466.31 478.33 L467.96 477.95 L469.61 477.58 L471.27 477.21 L472.92 476.85 L474.57 476.49 L476.22 476.14 L477.88 475.8 L479.53 475.46 L481.18 475.14 L482.83 474.83 L484.49 474.53 L486.14 474.24 L487.79 473.98 L489.44 473.74 L491.09 473.52 L492.75 473.33 L494.4 473.18 L496.05 473.07 L497.7 473.01 L499.36 473 L501.01 473.05 L502.66 473.17 L504.31 473.37 L505.97 473.65 L507.62 474.02 L509.27 474.48 L510.92 475.03 L512.57 475.68 L514.23 476.43 L515.88 477.26 L517.53 478.17 L519.18 479.14 L520.84 480.18 L522.49 481.27 L524.14 482.41 L525.79 483.57 L527.45 484.76 L529.1 485.96 L530.75 487.18 L532.4 488.41 L534.06 489.65 L535.71 490.88 L537.36 492.12 L539.01 493.36 L540.66 494.61 L542.32 495.85 L543.97 497.09 L545.62 498.33 L547.27 499.57 L548.93 500.82 L550.58 502.06 L552.23 503.3 L553.88 504.54 L555.54 505.79 L557.19 507.03 L558.84 508.27 L560.49 509.51 L562.14 510.75 L563.8 511.98 L565.45 513.21 L567.1 514.43 L568.75 515.63 L570.41 516.82 L572.06 517.99 L573.71 519.12 L575.36 520.21 L577.02 521.25 L578.67 522.23 L580.32 523.14 L581.97 523.96 L583.63 524.71 L585.28 525.36 L586.93 525.91 L588.58 526.37 L590.23 526.74 L591.89 527.02 L593.54 527.22 L595.19 527.34 L596.84 527.39 L598.5 527.38 L600.15 527.32 L601.8 527.21 L603.45 527.06 L605.11 526.87 L606.76 526.65 L608.41 526.41 L610.06 526.15 L611.71 525.86 L613.37 525.57 L615.02 525.25 L616.67 524.93 L618.32 524.59 L619.98 524.25 L621.63 523.9 L623.28 523.54 L624.93 523.18 L626.59 522.81 L628.24 522.44 L629.89 522.07 L631.54 521.69 L633.19 521.31 L634.85 520.92 L636.5 520.54 L638.15 520.15 L639.8 519.76 L641.46 519.37 L643.11 518.98 L644.76 518.59 L646.41 518.2 L648.07 517.8 L649.72 517.41 L651.37 517.02 L653.02 516.62 L654.68 516.22 L656.33 515.83 L657.98 515.43 L659.63 515.03 L661.28 514.63 L662.94 514.24 L664.59 513.84 L666.24 513.44 L667.89 513.04 L669.55 512.64 L671.2 512.24 L672.85 511.84 L674.5 511.44 L676.16 511.04 L677.81 510.64 L679.46 510.24" stroke="#0383C2" stroke-linejoin="round"/>
<path d="M418.1 402.1L668.7 591.4" stroke="#0383C2" stroke-dasharray="13.66 13.66"/>
<path d="M416.74 608.66 L679.46 392.34" stroke="#DF6E45"/>
</g>
<path d="M167.5 561.1h37" stroke="#DF6E45" stroke-width="3.4"/>
<path d="M167.5 581.1h37" stroke="#0383C2" stroke-width="3.4"/>
<path d="M167.5 600.4h16.8m3.4 0h16.8" stroke="#0383C2" stroke-width="3.4"/>
<text x="211.2" y="565.4" font-size="13.5" text-anchor="start" fill="#262626" >Usual</text>
<text x="211.2" y="585" font-size="13.5" text-anchor="start" fill="#262626" >Unusual (sim.)</text>
<text x="211.2" y="604.4" font-size="13.5" text-anchor="start" fill="#262626" >Unusual (analy.)</text>
<path d="M489.6 561.3h37" stroke="#DF6E45" stroke-width="3.4"/>
<path d="M489.6 581.3h37" stroke="#0383C2" stroke-width="3.4"/>
<path d="M489.6 600.6h16.8m3.4 0h16.8" stroke="#0383C2" stroke-width="3.4"/>
<text x="532.6" y="566.3" font-size="13.5" text-anchor="start" fill="#262626" >Usual</text>
<text x="532.6" y="585.9" font-size="13.5" text-anchor="start" fill="#262626" >Unusual (sim.)</text>
<text x="532.6" y="605.3" font-size="13.5" text-anchor="start" fill="#262626" >Unusual (analy.)</text>
<text x="184" y="647.5" font-size="13.5" fill="#262626"><tspan font-style="italic">J</tspan> (&#956;m<tspan dy="-4.4" font-size="10">&#8722;1</tspan><tspan dy="4.4">)</tspan></text>
<text x="534" y="647.5" font-size="13.5" fill="#262626"><tspan font-style="italic">J</tspan> (&#956;m<tspan dy="-4.4" font-size="10">&#8722;1</tspan><tspan dy="4.4">)</tspan></text>
<text transform="translate(16.1 501.6) rotate(-90)" font-size="13.5" text-anchor="middle" fill="#262626">&#916;<tspan font-style="italic">k</tspan><tspan font-style="italic" dy="4.2" font-size="9.5">x</tspan><tspan dy="-4.2"> (&#956;m</tspan><tspan dy="-4.3" font-size="10">&#8722;1</tspan><tspan dy="4.3">)</tspan></text>
<text transform="translate(371.1 501.6) rotate(-90)" font-size="13.5" text-anchor="middle" fill="#262626">&#916;<tspan font-style="italic">k</tspan><tspan font-style="italic" dy="4.2" font-size="9.5">x</tspan><tspan dy="-4.2"> (&#956;m</tspan><tspan dy="-4.3" font-size="10">&#8722;1</tspan><tspan dy="4.3">)</tspan></text>
<g stroke="#929296" fill="none" stroke-width="3.2">
<path d="M130.2 401V511" stroke-dasharray="3 3.9"/>
<path d="M130.2 509.8H86" stroke-dasharray="3 4"/>
<path d="M96.5 484.5L86.8 510" stroke-dasharray="3 3.8"/>
<path d="M130.2 399.6L101.6 472.3" stroke-width="3.5"/>
<path d="M130.2 481.6H106"/>
</g>
<polygon points="97.9,481.2 96.9,471 105.9,474.5" fill="#929296"/>
<polygon points="98.2,481.6 107.6,476.9 107.6,486.4" fill="#929296"/>
<text x="97.6" y="447.6" font-size="13.5" font-style="italic" fill="#262626">k</text>
<text x="141.8" y="469.6" font-size="13.5" font-style="italic" fill="#262626">l<tspan dy="3.2" font-size="9.5">z</tspan></text>
<text x="99.8" y="499.6" font-size="13.5" fill="#262626">&#916;<tspan font-style="italic">k</tspan><tspan font-style="italic" dy="3.2" font-size="9.5">x</tspan></text>
<text x="103.6" y="532.2" font-size="13.5" font-style="italic" fill="#262626">l<tspan dy="4.2" font-size="9.5">x</tspan></text>
<defs>
<filter id="shblur" x="-50%" y="-50%" width="200%" height="200%"><feGaussianBlur stdDeviation="2.2"/></filter>
<filter id="shblur2" x="-80%" y="-80%" width="260%" height="260%"><feGaussianBlur stdDeviation="2.4"/></filter>
<linearGradient id="arrfill" x1="0" y1="0" x2="0" y2="1"><stop offset="0" stop-color="#F1F4F9"/><stop offset="1" stop-color="#D3DBEB"/></linearGradient>
</defs>
<circle cx="201.1" cy="81.1" r="5.2" fill="#6698D0"/>
<g transform="translate(0.5 4)"><polygon points="277.6,77.3 222.3,77.3 222.3,73.5 206.7,80.6 222.3,87.7 222.3,83.9 277.6,83.9" fill="#A7BADD" opacity="0.85" filter="url(#shblur)"/></g>
<polygon points="277.6,77.3 222.3,77.3 222.3,73.5 206.7,80.6 222.3,87.7 222.3,83.9 277.6,83.9" fill="url(#arrfill)" fill-opacity="0.85" stroke="#9EBCE1" stroke-width="1.4" stroke-linejoin="miter"/>
<text x="252.9" y="101" font-size="13.4" fill="#245F2C">Impulse</text>
<circle cx="549.9" cy="140.5" r="5.2" fill="#6698D0"/>
<g transform="translate(0.5 4)"><polygon points="625.8,136.9 570.5,136.9 570.5,133.6 555.5,140.4 570.5,147.2 570.5,143.9 625.8,143.9" fill="#A7BADD" opacity="0.85" filter="url(#shblur)"/></g>
<polygon points="625.8,136.9 570.5,136.9 570.5,133.6 555.5,140.4 570.5,147.2 570.5,143.9 625.8,143.9" fill="url(#arrfill)" fill-opacity="0.4" stroke="#9EBCE1" stroke-width="1.4" stroke-linejoin="miter"/>
<text x="592.3" y="126" font-size="13.4" fill="#245F2C">Impulse</text>
<path d="M154.2 174.3V313" stroke="#6A6A6E" stroke-width="2.3" stroke-dasharray="2.2 2.35" fill="none"/>
<g transform="translate(0.5 5.5)"><polygon points="177.01,236.3 164.8,245.08 163.31,243.01 158.6,251.2 167.86,249.35 166.37,247.28 178.59,238.5" fill="#A7BADD" opacity="1" filter="url(#shblur2)"/></g>
<polygon points="177.01,236.3 164.8,245.08 163.31,243.01 158.6,251.2 167.86,249.35 166.37,247.28 178.59,238.5" fill="#DDE1E9" fill-opacity="1" stroke="#9CBBE0" stroke-width="1.5" stroke-linejoin="miter"/>
<text x="164.6" y="234.9" font-size="13.5" text-anchor="start" fill="#262626" >Usual expectation</text>
<path d="M504.5 174.3V313" stroke="#6A6A6E" stroke-width="2.3" stroke-dasharray="2.2 2.35" fill="none"/>
<g transform="translate(0.5 5.5)"><polygon points="480.34,199.93 492.76,191.76 494.16,193.89 499.2,185.9 489.87,187.37 491.27,189.5 478.86,197.67" fill="#A7BADD" opacity="1" filter="url(#shblur2)"/></g>
<polygon points="480.34,199.93 492.76,191.76 494.16,193.89 499.2,185.9 489.87,187.37 491.27,189.5 478.86,197.67" fill="#DDE1E9" fill-opacity="1" stroke="#9CBBE0" stroke-width="1.5" stroke-linejoin="miter"/>
<text x="431.6" y="220.9" font-size="13.5" text-anchor="start" fill="#262626" >Usual</text>
<text x="416.2" y="240.9" font-size="13.5" text-anchor="start" fill="#262626" >expectation</text>
</svg></body></html>
